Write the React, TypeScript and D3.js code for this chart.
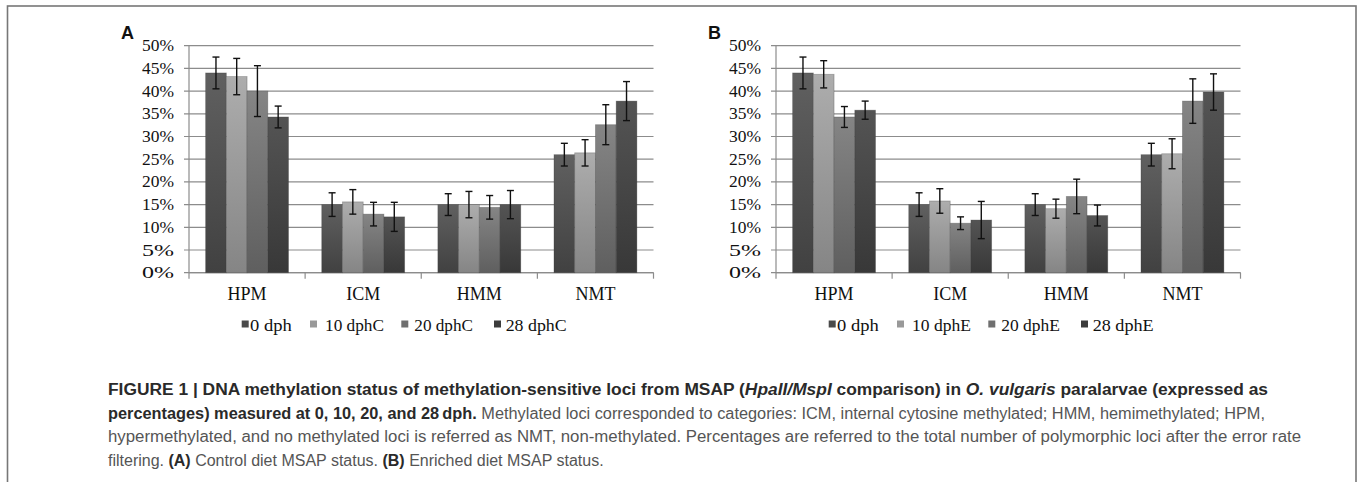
import React from "react";
import * as d3 from "d3";

const categories = ["HPM", "ICM", "HMM", "NMT"];
const yTicks = [0, 5, 10, 15, 20, 25, 30, 35, 40, 45, 50];

const seriesA = ["0 dph", "10 dphC", "20 dphC", "28 dphC"];
const seriesB = ["0 dph", "10 dphE", "20 dphE", "28 dphE"];

// values[series][category]
const valuesA = [
  [44.0, 15.0, 15.0, 26.0],
  [43.2, 15.6, 15.0, 26.4],
  [40.0, 12.9, 14.4, 32.6],
  [34.3, 12.3, 15.0, 37.8],
];
const errorsA = [
  [3.5, 2.6, 2.4, 2.5],
  [4.0, 2.7, 2.9, 2.9],
  [5.6, 2.6, 2.6, 4.4],
  [2.4, 3.2, 3.1, 4.3],
];
const valuesB = [
  [44.0, 15.0, 15.0, 26.0],
  [43.7, 15.8, 14.1, 26.2],
  [34.3, 10.9, 16.8, 37.8],
  [35.8, 11.6, 12.6, 39.8],
];
const errorsB = [
  [3.5, 2.6, 2.4, 2.5],
  [3.0, 2.7, 2.1, 3.3],
  [2.3, 1.4, 3.8, 4.9],
  [2.0, 4.1, 2.3, 4.0],
];

const barTop = ["#606060", "#adadad", "#858585", "#545454"];
const barBottom = ["#414141", "#858585", "#5f5f5f", "#383838"];
const legendColors = ["#4a4a4a", "#999999", "#6f6f6f", "#3c3c3c"];

const captionLines = [
  [
    { t: "FIGURE 1 | DNA methylation status of methylation-sensitive loci from MSAP (", b: true },
    { t: "HpaII/MspI", b: true, i: true },
    { t: " comparison) in ", b: true },
    { t: "O. vulgaris", b: true, i: true },
    { t: " paralarvae (expressed as", b: true },
  ],
  [
    { t: "percentages) measured at 0, 10, 20, and 28\u2009dph.", b: true },
    { t: " Methylated loci corresponded to categories: ICM, internal cytosine methylated; HMM, hemimethylated; HPM,", b: false },
  ],
  [
    { t: "hypermethylated, and no methylated loci is referred as NMT, non-methylated. Percentages are referred to the total number of polymorphic loci after the error rate", b: false },
  ],
  [
    { t: "filtering. ", b: false },
    { t: "(A)", b: true },
    { t: " Control diet MSAP status. ", b: false },
    { t: "(B)", b: true },
    { t: " Enriched diet MSAP status.", b: false },
  ],
];
const captionWidths = [1160, 1157, 1193, 0];

type PanelProps = {
  x0: number;
  label: string;
  series: string[];
  values: number[][];
  errors: number[][];
  id: string;
};

function Panel({ x0, label, series, values, errors, id }: PanelProps) {
  const top = 45.7;
  const bottom = 272.7;
  const width = 464.5;
  const y = d3.scaleLinear().domain([0, 50]).range([bottom, top]);
  const xc = d3.scaleBand<string>().domain(categories).range([x0, x0 + width]).padding(0);
  const bw = xc.bandwidth();
  const gap = bw * 0.143;
  const xs = d3.scaleBand<string>().domain(series).range([gap, bw - gap]).padding(0);
  const serif = "'Liberation Serif', 'Times New Roman', serif";
  const legendOffsets = [52.7, 121, 212.3, 305];
  const legendTextOffsets = [61, 136, 225.3, 316.7];
  const legendTextWidths = [41.7, 59, 58.7, 61];

  return (
    <g>
      <defs>
        {series.map((s, i) => (
          <linearGradient key={s} id={`${id}-g${i}`} x1="0" y1="0" x2="0" y2="1">
            <stop offset="0" stopColor={barTop[i]} />
            <stop offset="1" stopColor={barBottom[i]} />
          </linearGradient>
        ))}
      </defs>
      <text x={x0 - 68} y={38.5} fontFamily="'Liberation Sans', Arial, sans-serif" fontWeight="bold" fontSize={18} fill="#111">
        {label}
      </text>
      {yTicks.map((t) => (
        <g key={t}>
          <line x1={x0 - 5} x2={x0 + width} y1={y(t)} y2={y(t)} stroke="#8c8c8c" strokeWidth={1.2} />
          <text x={x0 - 15} y={y(t) + 5.5} textAnchor="end" fontFamily={serif} fontSize={17} fill="#111" textLength={32} lengthAdjust="spacingAndGlyphs">
            {`${t}%`}
          </text>
        </g>
      ))}
      <line x1={x0} x2={x0} y1={top} y2={bottom} stroke="#8c8c8c" strokeWidth={1.2} />
      <line x1={x0} x2={x0 + width} y1={bottom} y2={bottom} stroke="#8c8c8c" strokeWidth={1.2} />
      {categories.map((c) => (
        <line key={c} x1={xc(c)!} x2={xc(c)!} y1={bottom} y2={bottom + 6} stroke="#8c8c8c" strokeWidth={1.2} />
      ))}
      <line x1={x0 + width} x2={x0 + width} y1={bottom} y2={bottom + 6} stroke="#8c8c8c" strokeWidth={1.2} />
      {categories.map((c, ci) =>
        series.map((s, si) => {
          const v = values[si][ci];
          const e = errors[si][ci];
          const bx = xc(c)! + xs(s)!;
          const cx = bx + xs.bandwidth() / 2;
          return (
            <g key={c + s}>
              <rect x={bx} y={y(v)} width={xs.bandwidth()} height={y(0) - y(v)} fill={`url(#${id}-g${si})`} stroke="#3a3a3a" strokeOpacity={0.35} strokeWidth={0.8} />
              <line x1={cx} x2={cx} y1={y(v + e)} y2={y(v - e)} stroke="#111" strokeWidth={1.4} />
              <line x1={cx - 3.5} x2={cx + 3.5} y1={y(v + e)} y2={y(v + e)} stroke="#111" strokeWidth={1.4} />
              <line x1={cx - 3.5} x2={cx + 3.5} y1={y(v - e)} y2={y(v - e)} stroke="#111" strokeWidth={1.4} />
            </g>
          );
        })
      )}
      {categories.map((c) => (
        <text key={c} x={xc(c)! + bw / 2} y={299.5} textAnchor="middle" fontFamily={serif} fontSize={18} fill="#111">
          {c}
        </text>
      ))}
      {series.map((s, i) => (
        <g key={s}>
          <rect x={x0 + legendOffsets[i]} y={320.5} width={7} height={7} fill={legendColors[i]} />
          <text x={x0 + legendTextOffsets[i]} y={330.5} fontFamily={serif} fontSize={17.5} fill="#111" textLength={legendTextWidths[i]} lengthAdjust="spacingAndGlyphs">
            {s}
          </text>
        </g>
      ))}
    </g>
  );
}

export default function App() {
  const sans = "'Liberation Sans', Arial, Helvetica, sans-serif";
  const baselines = [395, 418.5, 442, 465.5];
  return (
    <div style={{ position: "absolute", left: 0, top: 0 }}>
      <svg width={1357} height={482} style={{ display: "block", background: "#fff" }}>
        <rect x={7.5} y={6} width={1348.5} height={520} fill="none" stroke="#777" strokeWidth={1.6} />
        <Panel x0={189} label="A" series={seriesA} values={valuesA} errors={errorsA} id="pa" />
        <Panel x0={776} label="B" series={seriesB} values={valuesB} errors={errorsB} id="pb" />
        {captionLines.map((line, li) => (
          <text
            key={li}
            x={108}
            y={baselines[li]}
            fontFamily={sans}
            fontSize={16}
            textLength={captionWidths[li] > 0 ? captionWidths[li] : undefined}
            lengthAdjust={captionWidths[li] > 0 ? "spacingAndGlyphs" : undefined}
          >
            {line.map((p: any, pi: number) => (
              <tspan key={pi} fontWeight={p.b ? "bold" : "normal"} fontStyle={p.i ? "italic" : "normal"} fill={p.b ? "#2a2a2a" : "#555"}>
                {p.t}
              </tspan>
            ))}
          </text>
        ))}
      </svg>
    </div>
  );
}
